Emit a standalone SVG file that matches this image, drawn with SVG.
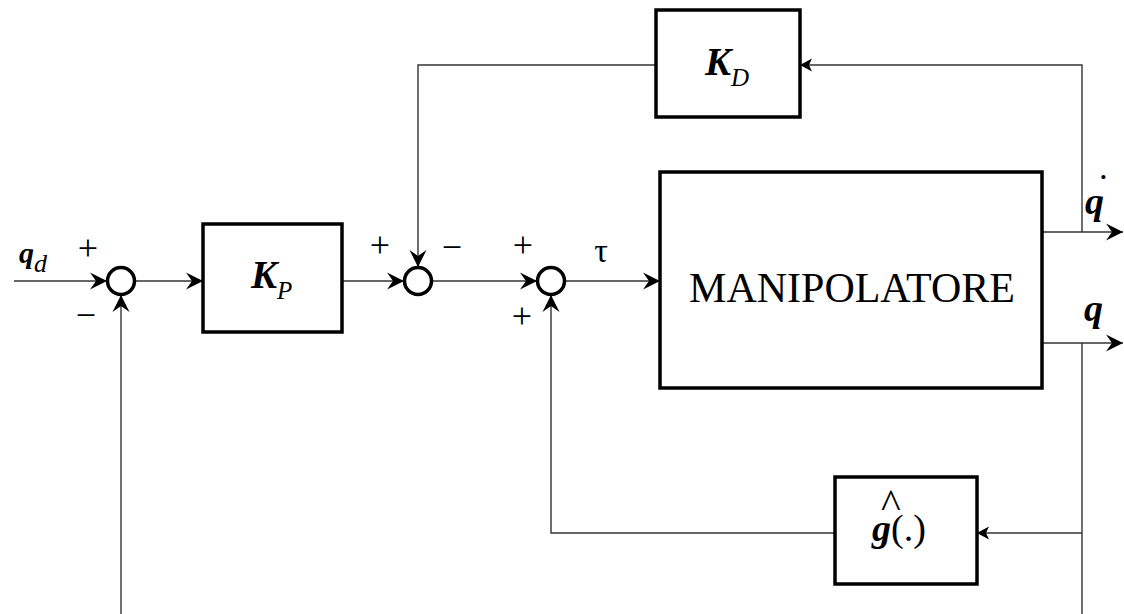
<svg xmlns="http://www.w3.org/2000/svg" width="1124" height="614" viewBox="0 0 1124 614">
<defs>
<style>
.box{fill:#fff;stroke:#000;stroke-width:3.5}
.sum{fill:#fff;stroke:#000;stroke-width:3.5}
.wire{fill:none;stroke:#333;stroke-width:1.4}
text{font-family:"Liberation Serif","Times New Roman",serif;fill:#000}
.bi{font-weight:bold;font-style:italic}
.it{font-style:italic}
</style>
<marker id="arr" markerWidth="20" markerHeight="20" viewBox="-18 -10 19 20" refX="0" refY="0" orient="auto" markerUnits="userSpaceOnUse">
<path d="M0,0 L-17,-8.5 L-11,0 L-17,8.5 Z" fill="#000"/>
</marker>
<marker id="arrs" markerWidth="16" markerHeight="16" viewBox="-14 -8 15 16" refX="0" refY="0" orient="auto" markerUnits="userSpaceOnUse">
<path d="M0,0 L-12,-6.5 L-9,0 L-12,6.5 Z" fill="#000"/>
</marker>
</defs>
<rect width="1124" height="614" fill="#fff"/>
<g id="connectors">
<path class="wire" d="M14,281 H107" marker-end="url(#arr)"/>
<path class="wire" d="M121,614 V295" marker-end="url(#arr)"/>
<path class="wire" d="M135,281 H203" marker-end="url(#arr)"/>
<path class="wire" d="M342,281 H404" marker-end="url(#arr)"/>
<path class="wire" d="M656,65 H418 V267" marker-end="url(#arr)"/>
<path class="wire" d="M432,281 H537" marker-end="url(#arr)"/>
<path class="wire" d="M565,281 H660" marker-end="url(#arr)"/>
<path class="wire" d="M1042,232 H1123" marker-end="url(#arr)"/>
<path class="wire" d="M1042,343 H1123" marker-end="url(#arr)"/>
<path class="wire" d="M1082,232 V65 H800" marker-end="url(#arrs)"/>
<path class="wire" d="M1082,343 V614"/>
<path class="wire" d="M1082,533 H977" marker-end="url(#arrs)"/>
<path class="wire" d="M835,533 H551 V295" marker-end="url(#arr)"/>
</g>
<g id="sum1"><circle class="sum" cx="121" cy="281" r="13.5"/></g>
<g id="sum2"><circle class="sum" cx="418" cy="281" r="13.5"/></g>
<g id="sum3"><circle class="sum" cx="551" cy="281" r="13.5"/></g>
<g id="KP">
<rect class="box" x="203" y="224" width="139" height="108"/>
<text x="251" y="288"><tspan class="bi" font-size="39">K</tspan><tspan class="it" font-size="25" dy="11">P</tspan></text>
</g>
<g id="KD">
<rect class="box" x="656" y="10" width="144" height="107"/>
<text x="705" y="75"><tspan class="bi" font-size="39">K</tspan><tspan class="it" font-size="25" dy="11">D</tspan></text>
</g>
<g id="manipolatore">
<rect class="box" x="660" y="172" width="382" height="216"/>
<text x="852" y="302" font-size="42" text-anchor="middle">MANIPOLATORE</text>
</g>
<g id="ghat">
<rect class="box" x="835" y="477" width="142" height="107"/>
<text font-size="38"><tspan x="881" y="518" font-size="42">^</tspan><tspan class="bi" x="872" y="541">g</tspan><tspan>(.)</tspan></text>
</g>
<g id="labels">
<text x="19" y="263"><tspan class="bi" font-size="30">q</tspan><tspan class="it" font-size="26" dy="9">d</tspan></text>
<text x="88" y="260" font-size="36" text-anchor="middle">+</text>
<text x="86" y="327" font-size="36" text-anchor="middle">−</text>
<text x="380" y="257" font-size="36" text-anchor="middle">+</text>
<text x="452" y="259" font-size="36" text-anchor="middle">−</text>
<text x="523" y="257" font-size="36" text-anchor="middle">+</text>
<text x="522" y="328" font-size="36" text-anchor="middle">+</text>
<text x="601" y="262" font-size="34" text-anchor="middle">τ</text>
<text font-size="38"><tspan class="bi" x="1085" y="214">q</tspan><tspan x="1097" y="200">˙</tspan></text>
<text class="bi" x="1084" y="321" font-size="38">q</text>
</g>
</svg>
